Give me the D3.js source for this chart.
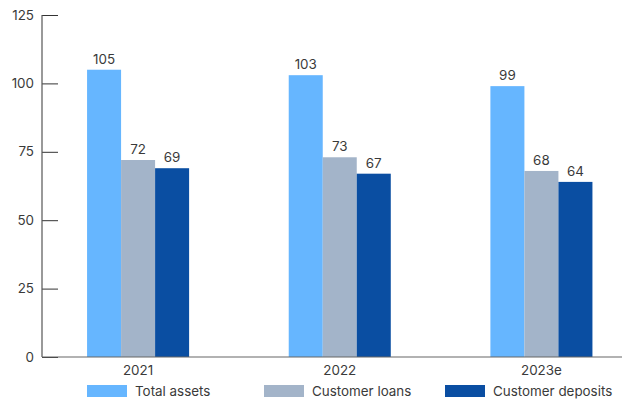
<!DOCTYPE html>
<html>
<head>
<meta charset="utf-8">
<script src="https://cdn.jsdelivr.net/npm/d3@7"></script>
<style>
  html, body { margin: 0; padding: 0; background: #fff; }
  svg { display: block; font-family: Inter, "Noto Sans", sans-serif; }
</style>
</head>
<body>
<svg id="chart" width="622" height="401"></svg>
<script>
// Balance sheet totals by year
const years = ["2021", "2022", "2023e"];
const seriesNames = ["Total assets", "Customer loans", "Customer deposits"];
const totalAssets = [105, 103, 99];
const customerLoans = [72, 73, 68];
const customerDeposits = [69, 67, 64];
const yTicks = [0, 25, 50, 75, 100, 125];
const colors = ["#66b6ff", "#a3b4c9", "#0a4ea2"];

const seriesValues = [totalAssets, customerLoans, customerDeposits];

const svg = d3.select("#chart");
const axisX = 42, plotRight = 622, baseY = 357, topY = 15;
const fontSize = 13.4;

const y = d3.scaleLinear().domain([0, 125]).range([baseY, topY]);
const x0 = d3.scaleBand().domain(years).range([37.25, 642.25])
  .paddingInner(0.494).paddingOuter(0.247);
const x1 = d3.scaleBand().domain(seriesNames).range([0, x0.bandwidth()]);
const color = d3.scaleOrdinal().domain(seriesNames).range(colors);

// Bars
const groups = svg.append("g").selectAll("g")
  .data(years)
  .join("g")
  .attr("transform", d => `translate(${x0(d)},0)`);

groups.selectAll("rect")
  .data((d, i) => seriesNames.map((s, j) => ({ s, v: seriesValues[j][i] })))
  .join("rect")
  .attr("x", d => x1(d.s))
  .attr("y", d => y(d.v))
  .attr("width", x1.bandwidth())
  .attr("height", d => baseY - y(d.v))
  .attr("fill", d => color(d.s));

// Value labels
groups.selectAll("text")
  .data((d, i) => seriesNames.map((s, j) => ({ s, v: seriesValues[j][i] })))
  .join("text")
  .attr("x", d => x1(d.s) + x1.bandwidth() / 2)
  .attr("y", d => y(d.v) - 6)
  .attr("text-anchor", "middle")
  .attr("font-size", fontSize)
  .attr("fill", "#3a3a3a")
  .text(d => d.v);

// Y axis with inward ticks
const yAxis = d3.axisRight(y).tickValues(yTicks).tickSize(16).tickFormat("");
const yg = svg.append("g").attr("transform", `translate(${axisX},0)`).call(yAxis);
yg.select(".domain").remove();
yg.selectAll(".tick line").attr("stroke", "#333");
svg.append("line")
  .attr("x1", axisX).attr("x2", axisX)
  .attr("y1", y(125)).attr("y2", baseY)
  .attr("stroke", "#555").attr("stroke-width", 1.2);

svg.append("g").selectAll("text")
  .data(yTicks)
  .join("text")
  .attr("x", 34)
  .attr("y", d => y(d))
  .attr("dy", "0.35em")
  .attr("text-anchor", "end")
  .attr("font-size", fontSize)
  .attr("fill", "#3a3a3a")
  .text(d => d);

// X baseline and category labels
svg.append("line")
  .attr("x1", axisX).attr("x2", plotRight)
  .attr("y1", baseY).attr("y2", baseY)
  .attr("stroke", "#666").attr("stroke-width", 1.2);

svg.append("g").selectAll("text")
  .data(years)
  .join("text")
  .attr("x", d => x0(d) + x0.bandwidth() / 2)
  .attr("y", 375)
  .attr("text-anchor", "middle")
  .attr("font-size", fontSize)
  .attr("fill", "#3a3a3a")
  .text(d => d);

// Legend
const legendX = [87, 264, 445];
const legend = svg.append("g").selectAll("g")
  .data(seriesNames)
  .join("g")
  .attr("transform", (d, i) => `translate(${legendX[i]},385)`);
legend.append("rect")
  .attr("width", 40).attr("height", 12)
  .attr("fill", d => color(d));
legend.append("text")
  .attr("x", 48).attr("y", 6)
  .attr("dy", "0.35em")
  .attr("font-size", fontSize)
  .attr("fill", "#3a3a3a")
  .text(d => d);
</script>
</body>
</html>
